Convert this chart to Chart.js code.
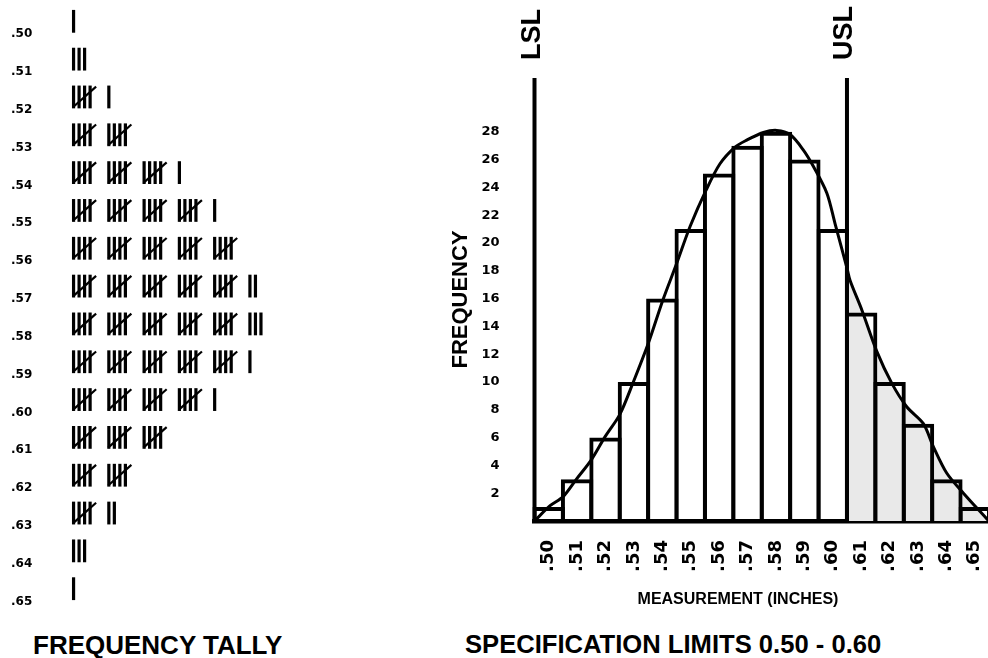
<!DOCTYPE html>
<html><head><meta charset="utf-8">
<script src="https://cdn.jsdelivr.net/npm/chart.js@4.4.1/dist/chart.umd.min.js"></script>
<style>
html,body{margin:0;padding:0;background:#fff;width:988px;height:658px;overflow:hidden;position:relative}
canvas{position:absolute}
#tally{left:0;top:0}
#hist{left:440px;top:0}
.t{position:absolute;font-family:"Liberation Sans",Arial,sans-serif;font-weight:bold;color:#000;line-height:1;white-space:nowrap}
</style></head><body>
<canvas id="tally" width="427" height="612"></canvas>
<canvas id="hist" width="560" height="600"></canvas>
<div class="t" style="left:33px;top:632px;font-size:26px">FREQUENCY TALLY</div>
<div class="t" style="left:465px;top:632px;font-size:25.6px">SPECIFICATION LIMITS 0.50 - 0.60</div>
<div class="t" style="left:738px;top:591px;font-size:16px;transform:translateX(-50%)">MEASUREMENT (INCHES)</div>
<script>
// ---- data ----
const measurements = ['.50','.51','.52','.53','.54','.55','.56','.57','.58','.59','.60','.61','.62','.63','.64','.65'];
const frequencies  = [1, 3, 6, 10, 16, 21, 25, 27, 28, 26, 21, 15, 10, 7, 3, 1];
const frequencyTicks = [2,4,6,8,10,12,14,16,18,20,22,24,26,28];
const curveX = [0.495,0.5005,0.5051,0.5099,0.515,0.5198,0.525,0.5298,0.5351,0.5402,0.545,0.5498,0.5554,0.5603,0.5656,0.5697,0.5756,0.5803,0.585,0.5896,0.5932,0.5979,0.6008,0.605,0.6061,0.6102,0.6155,0.6208,0.6261,0.6319,0.6354,0.6401,0.646,0.6547];
const curveY = [0,1.1,1.75,3.05,4.4,6.05,7.65,10.0,12.8,15.9,18.5,21.2,23.8,25.7,26.9,27.4,27.95,28.1,27.8,26.7,25.5,23.6,21.4,18.2,17.3,15.2,12.2,9.9,8.2,7.0,5.35,3.45,2.0,0.05];
const shadeFrom = 0.605;           // beyond the upper spec limit
const specLimits = [
  {label:'LSL', category:'.50', side:-0.5},
  {label:'USL', category:'.60', side: 0.5}
];

// ---- right: histogram ----
const curvePts = curveX.map((x,i)=>({x, y:curveY[i]}));
const shadePts = curvePts.filter(p=>p.x >= shadeFrom);

const specPlugin = {
  id:'specLimits',
  afterDatasetsDraw(chart){
    const {ctx, chartArea, scales} = chart;
    const xs = scales.x;
    const step = xs.getPixelForValue(1) - xs.getPixelForValue(0);
    specLimits.forEach(s=>{
      const px = xs.getPixelForValue(measurements.indexOf(s.category)) + s.side*step;
      ctx.save();
      ctx.strokeStyle = '#000'; ctx.lineWidth = 4;
      ctx.beginPath(); ctx.moveTo(px, chartArea.top); ctx.lineTo(px, chartArea.bottom); ctx.stroke();
      ctx.translate(px - 2, chartArea.top - 18);
      ctx.rotate(-Math.PI/2);
      ctx.font = 'bold 27px "Liberation Sans", Arial, sans-serif';
      ctx.fillStyle = '#000'; ctx.textAlign = 'left'; ctx.textBaseline = 'middle';
      ctx.fillText(s.label, 0, 0);
      ctx.restore();
    });
  }
};

new Chart(document.getElementById('hist'), {
  type:'bar',
  data:{
    labels: measurements,
    datasets:[
      {type:'line', data:curvePts, xAxisID:'x2', borderColor:'#000', borderWidth:3, pointRadius:0, tension:0.3, fill:false, order:0},
      {type:'bar', data:frequencies, backgroundColor:'rgba(0,0,0,0)', borderColor:'#000', borderWidth:4,
       grouped:false, barThickness:32.4, inflateAmount:0, clip:false, order:1},
      {type:'line', data:shadePts, xAxisID:'x2', borderWidth:0, borderColor:'rgba(0,0,0,0)', backgroundColor:'#e9e9e9',
       fill:'origin', pointRadius:0, tension:0.3, order:2}
    ]
  },
  options:{
    responsive:false, animation:false, events:[],
    layout:{autoPadding:false, padding:{top:78, right:11, bottom:0, left:0}},
    plugins:{legend:{display:false}, tooltip:{enabled:false}},
    scales:{
      x:{type:'category', offset:true, grid:{display:false, drawTicks:false},
         border:{display:true, color:'#000', width:4.5},
         ticks:{autoSkip:false, maxRotation:90, minRotation:90, padding:19, color:'#000',
                font:{family:'DejaVu Sans', weight:'bold', size:18}},
         afterFit(s){ s.height = 79; s.paddingLeft = 0; s.paddingRight = 0; }},
      x2:{type:'linear', axis:'x', display:false, offset:false, min:0.495, max:0.655},
      y:{type:'linear', min:0, max:31.87, grid:{display:false, drawTicks:false}, border:{display:false},
         afterBuildTicks(s){ s.ticks = frequencyTicks.map(v=>({value:v})); },
         ticks:{padding:35, color:'#000', font:{family:'DejaVu Sans', weight:'bold', size:13}},
         title:{display:true, text:'FREQUENCY', color:'#000',
                font:{family:'"Liberation Sans", Arial, sans-serif', weight:'bold', size:22}, padding:{top:7.8, bottom:0}},
         afterFit(s){ s.width = 94.5; s.paddingTop = 0; s.paddingBottom = 0; }}
    }
  },
  plugins:[specPlugin]
});

// ---- left: tally ----
const strokeStep = 0.1563, slashCenter = 0.31;
const strokePts = [], slashPts = [];
measurements.forEach((m,i)=>{
  const c = frequencies[i], groups = Math.floor(c/5), rem = c % 5;
  for (let g=0; g<groups; g++){
    for (let j=0; j<4; j++) strokePts.push({x:g + j*strokeStep, y:m});
    slashPts.push({x:g + slashCenter, y:m});
  }
  for (let j=0; j<rem; j++) strokePts.push({x:groups + j*strokeStep, y:m});
});

new Chart(document.getElementById('tally'), {
  type:'scatter',
  data:{datasets:[
    {data:strokePts, pointStyle:'line', pointRadius:11.4, pointBorderWidth:3.2, pointBorderColor:'#000', pointBackgroundColor:'#000', pointRotation:90, clip:false},
    {data:slashPts, pointStyle:'line', pointRadius:15.5, pointBorderWidth:2.2, pointBorderColor:'#000', pointBackgroundColor:'#000', pointRotation:-41.5, clip:false}
  ]},
  options:{
    responsive:false, animation:false, events:[],
    layout:{autoPadding:false, padding:{top:2.4, bottom:4.4, left:0, right:0}},
    plugins:{legend:{display:false}, tooltip:{enabled:false}},
    scales:{
      x:{type:'linear', display:false, offset:false, min:-0.98, max:10.02},
      y:{type:'category', labels:measurements, offset:true, grid:{display:false, drawTicks:false}, border:{display:false},
         ticks:{padding:6.7, labelOffset:12.9, color:'#000', font:{family:'DejaVu Sans', weight:'bold', size:12}},
         afterFit(s){ s.width = 39; s.paddingTop = 0; s.paddingBottom = 0; }}
    }
  }
});
</script>
</body></html>
